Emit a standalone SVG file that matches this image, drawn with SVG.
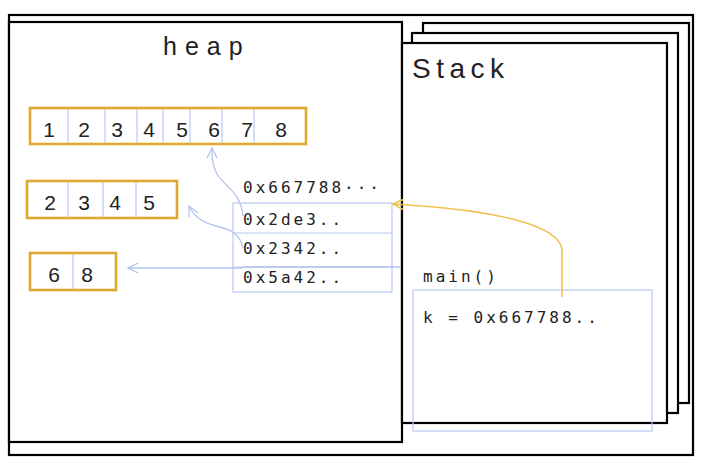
<svg xmlns="http://www.w3.org/2000/svg" width="710" height="474" viewBox="0 0 710 474">
<defs>
<style>
.frame{fill:#fff;stroke:#000;stroke-width:2.2}
.arr{fill:none;stroke:#E0A830;stroke-width:2.6}
.div{stroke:#B8C8F0;stroke-width:1.2}
.dig{font-family:"Liberation Sans",Arial,sans-serif;font-size:21px;fill:#222;text-anchor:middle}
.mono{font-family:"DejaVu Sans Mono","Liberation Mono",monospace;font-size:16px;fill:#222;letter-spacing:3px}
.title{font-family:"Liberation Sans",Arial,sans-serif;fill:#222}
.blue{fill:none;stroke:#B4C4F0;stroke-width:1.3}
.yel{fill:none;stroke:#F0C050;stroke-width:1.6}
</style>
<marker id="ab" viewBox="0 0 12 12" refX="11" refY="6" markerWidth="12" markerHeight="12" markerUnits="userSpaceOnUse" orient="auto">
<path d="M1,1 L11,6 L1,11" fill="none" stroke="#B4C4F0" stroke-width="1.3"/>
</marker>
<marker id="ay" viewBox="0 0 12 12" refX="11" refY="6" markerWidth="12" markerHeight="12" markerUnits="userSpaceOnUse" orient="auto">
<path d="M1,1 L11,6 L1,11" fill="none" stroke="#F0C050" stroke-width="1.6"/>
</marker>
</defs>
<rect width="710" height="474" fill="#fff"/>
<g id="outer"><rect class="frame" x="9" y="15" width="684" height="440"/></g>
<g id="heap">
<rect class="frame" x="9" y="22" width="393" height="420"/>
<text class="title" x="163" y="55" font-size="25" letter-spacing="8">heap</text>
</g>
<g id="stack">
<rect class="frame" x="423" y="23" width="266" height="380"/>
<rect class="frame" x="412" y="33" width="266" height="380"/>
<rect class="frame" x="402" y="43" width="265" height="380"/>
<text class="title" x="412" y="78" font-size="28" letter-spacing="5.5">Stack</text>
</g>
<g id="array8">
<rect class="arr" x="30" y="108" width="276" height="36"/>
<path class="div" d="M68,109V143M105,109V143M137,109V143M163,109V143M190,109V143M222,109V143M254,109V143"/>
<text class="dig" y="137"><tspan x="49">1</tspan><tspan x="84">2</tspan><tspan x="117">3</tspan><tspan x="149">4</tspan><tspan x="182">5</tspan><tspan x="214">6</tspan><tspan x="247">7</tspan><tspan x="281">8</tspan></text>
</g>
<g id="array4">
<rect class="arr" x="27" y="181" width="150" height="37"/>
<path class="div" d="M68,182V217M103,182V217M136,182V217"/>
<text class="dig" y="210"><tspan x="50">2</tspan><tspan x="84">3</tspan><tspan x="115">4</tspan><tspan x="149">5</tspan></text>
</g>
<g id="array2">
<rect class="arr" x="30" y="253" width="86" height="37"/>
<path class="div" d="M73,254V289"/>
<text class="dig" y="282"><tspan x="54">6</tspan><tspan x="87">8</tspan></text>
</g>
<g id="table">
<text class="mono" x="243" y="193">0x667788···</text>
<rect x="233" y="203" width="159" height="89" fill="none" stroke="#B8C8F0" stroke-width="1.2"/>
<path class="div" d="M233,233H392M233,267H392"/>
<text class="mono" x="243" y="225">0x2de3..</text>
<text class="mono" x="243" y="254">0x2342..</text>
<text class="mono" x="243" y="283">0x5a42..</text>
</g>
<g id="main">
<rect x="413" y="290" width="239" height="141" fill="none" stroke="#B8C8F0" stroke-width="1.2"/>
<text class="mono" x="423" y="282">main()</text>
<text class="mono" x="423" y="323" letter-spacing="3.4">k = 0x667788..</text>
</g>
<g id="connectors">
<path class="blue" marker-end="url(#ab)" d="M243,216 C241,192 224,186 217,174 C212,165 212,156 212,148"/>
<path class="blue" marker-end="url(#ab)" d="M243,248 C240,233 229,229 216,226 C201,222 194,216 189,206"/>
<path class="blue" marker-end="url(#ab)" d="M401,267 L246,267 C244,267 243,268 240,268 L128,268"/>
<path class="yel" marker-end="url(#ay)" d="M562,297 L562,250 C560,226 500,210 393,204"/>
</g>
</svg>
